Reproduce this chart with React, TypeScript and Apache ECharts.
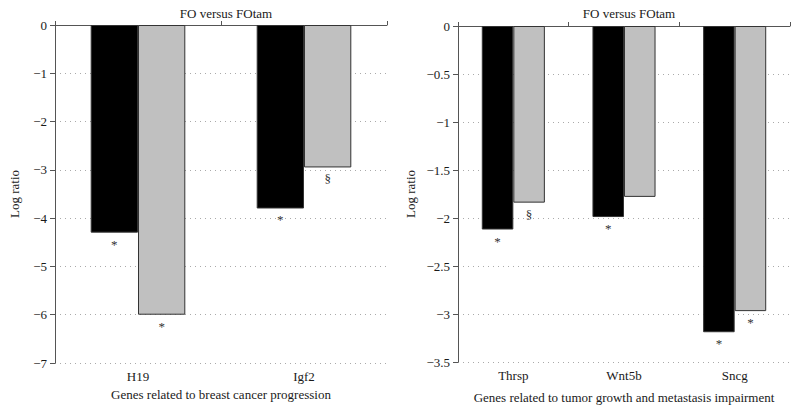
import React, { useEffect, useRef } from 'react';
import * as echarts from 'echarts';

const chartTitle = 'FO versus FOtam';

const leftCategories = ['H19', 'Igf2'];
const leftFO = [-4.3, -3.8];
const leftFOtam = [-6.0, -2.95];
const leftFOMarks = ['*', '*'];
const leftFOtamMarks = ['*', '§'];
const leftXName = 'Genes related to breast cancer progression';
const leftYMin = -7;
const leftYMax = 0;
const leftYInterval = 1;

const rightCategories = ['Thrsp', 'Wnt5b', 'Sncg'];
const rightFO = [-2.12, -1.99, -3.19];
const rightFOtam = [-1.84, -1.78, -2.97];
const rightFOMarks = ['*', '*', '*'];
const rightFOtamMarks = ['§', '', '*'];
const rightXName = 'Genes related to tumor growth and metastasis impairment';
const rightYMin = -3.5;
const rightYMax = 0;
const rightYInterval = 0.5;

const yName = 'Log ratio';

const FONT = '"Liberation Serif", "DejaVu Serif", serif';
const TEXT = '#1a1a1a';
const AXIS = '#555';
const MARK = '#333';

function App() {
  const ref = useRef<HTMLDivElement>(null);
  useEffect(() => {
    document.body.style.margin = '0';
    if (!ref.current) return;
    const chart = echarts.init(ref.current, undefined, { renderer: 'svg' });

    const grids = [
      { left: 55, right: 412, top: 25, bottom: 50 },
      { left: 458, right: 9, top: 26, bottom: 51 },
    ];

    const topX = (gridIndex: number, data: string[]) => ({
      type: 'category',
      gridIndex,
      position: 'top',
      data,
      axisLine: { show: true, onZero: false, lineStyle: { color: AXIS, width: 1 } },
      axisTick: { show: true, inside: false, length: 4, lineStyle: { color: AXIS } },
      axisLabel: { show: false },
      splitLine: { show: false },
    });
    const bottomX = (gridIndex: number, data: string[], name: string, gap: number) => ({
      type: 'category',
      gridIndex,
      position: 'bottom',
      data,
      name,
      nameLocation: 'middle',
      nameGap: gap,
      nameTextStyle: { fontFamily: FONT, fontSize: 13, color: TEXT },
      axisLine: { show: false, onZero: false },
      axisTick: { show: false },
      axisLabel: { show: true, margin: 7, fontFamily: FONT, fontSize: 13, color: TEXT },
      splitLine: { show: false },
    });
    const yAx = (gridIndex: number, min: number, max: number, interval: number, gap: number) => ({
      type: 'value',
      gridIndex,
      min,
      max,
      interval,
      name: yName,
      nameLocation: 'middle',
      nameGap: gap,
      nameRotate: 90,
      nameTextStyle: { fontFamily: FONT, fontSize: 13, color: TEXT },
      axisLine: { show: true, lineStyle: { color: AXIS, width: 1 } },
      axisTick: { show: true, inside: false, length: 5, lineStyle: { color: AXIS } },
      axisLabel: {
        fontFamily: FONT,
        fontSize: 13,
        color: TEXT,
        margin: 8,
        formatter: (v: number) => String(v).replace('-', '\u2212'),
      },
      splitLine: { show: true, lineStyle: { color: '#aaa', type: [1, 4], width: 1 } },
    });

    const barSeries = (
      xAxisIndex: number,
      yAxisIndex: number,
      values: number[],
      marks: string[],
      color: string,
    ) => ({
      type: 'bar',
      xAxisIndex,
      yAxisIndex,
      barGap: '0%',
      barCategoryGap: '43%',
      itemStyle: { color, borderColor: '#333', borderWidth: 1 },
      label: {
        show: true,
        position: 'bottom',
        distance: 5,
        fontFamily: FONT,
        fontSize: 13,
        color: MARK,
      },
      data: values.map((v, i) => ({
        value: v,
        label: {
          show: marks[i] !== '',
          formatter: marks[i] || ' ',
          color: MARK,
          textBorderWidth: 0,
        },
      })),
    });

    const titleStyle = { fontFamily: FONT, fontSize: 13, fontWeight: 'normal', color: TEXT };

    chart.setOption({
      animation: false,
      backgroundColor: '#fff',
      title: [
        { text: chartTitle, left: 221, textAlign: 'center', top: 2, textStyle: titleStyle },
        { text: chartTitle, left: 624, textAlign: 'center', top: 2, textStyle: titleStyle },
      ],
      grid: grids,
      xAxis: [
        topX(0, leftCategories),
        bottomX(0, leftCategories, leftXName, 24),
        topX(1, rightCategories),
        bottomX(1, rightCategories, rightXName, 29),
      ],
      yAxis: [
        yAx(0, leftYMin, leftYMax, leftYInterval, 34),
        yAx(1, rightYMin, rightYMax, rightYInterval, 41),
      ],
      series: [
        barSeries(0, 0, leftFO, leftFOMarks, '#000'),
        barSeries(0, 0, leftFOtam, leftFOtamMarks, '#c0c0c0'),
        barSeries(2, 1, rightFO, rightFOMarks, '#000'),
        barSeries(2, 1, rightFOtam, rightFOtamMarks, '#c0c0c0'),
      ],
    });
    return () => chart.dispose();
  }, []);
  return <div ref={ref} style={{ width: 799, height: 413, position: 'fixed', left: 0, top: 0 }} />;
}

export default App;
